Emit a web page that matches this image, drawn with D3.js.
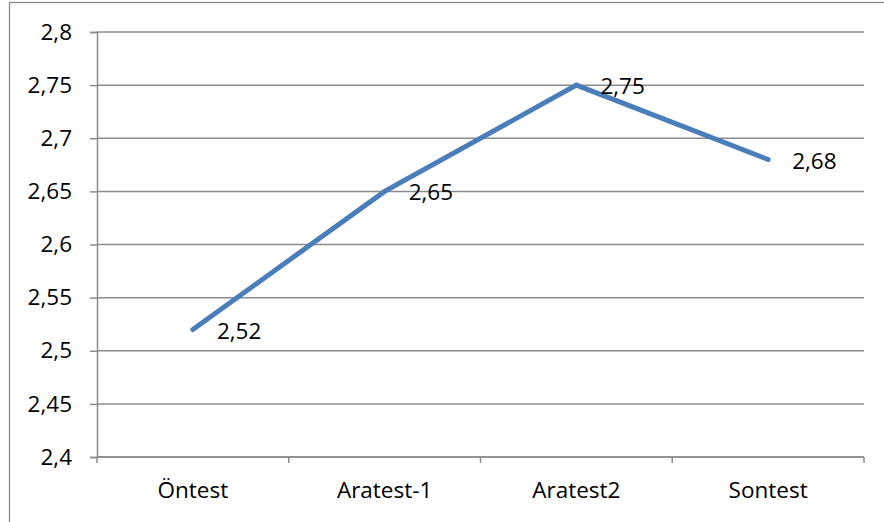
<!DOCTYPE html>
<html>
<head>
<meta charset="utf-8">
<script src="https://cdn.jsdelivr.net/npm/d3@7"></script>
<style>
  html, body { margin: 0; padding: 0; background: #fff; }
  svg { display: block; }
  text { font-family: "Open Sans", Lato, sans-serif; fill: #000; }
</style>
</head>
<body>
<svg id="chart" width="884" height="522"></svg>
<script>
// Mean scores per test stage
const categories = ["Öntest", "Aratest-1", "Aratest2", "Sontest"];
const values = [2.52, 2.65, 2.75, 2.68];
const yTicks = [2.4, 2.45, 2.5, 2.55, 2.6, 2.65, 2.7, 2.75, 2.8];

const svg = d3.select("#chart");
const plot = { left: 97, right: 864, top: 32, bottom: 457 };
const fontSize = "22.5px";

const fmt = v => String(v).replace(".", ",");

// outer chart frame
svg.append("rect")
  .attr("x", 9.5).attr("y", 2.5)
  .attr("width", 890).attr("height", 540)
  .attr("fill", "none").attr("stroke", "#8a8a8a").attr("stroke-width", 1.3);

const x = d3.scaleBand().domain(categories).range([plot.left, plot.right]).padding(0);
const y = d3.scaleLinear().domain([2.4, 2.8]).range([plot.bottom, plot.top]);

const gridColor = "#8c8c8c";

// horizontal gridlines
svg.append("g").selectAll("line").data(yTicks).join("line")
  .attr("x1", plot.left).attr("x2", plot.right)
  .attr("y1", d => y(d)).attr("y2", d => y(d))
  .attr("stroke", gridColor).attr("stroke-width", 1.5);

// y axis
const yAxis = svg.append("g")
  .attr("transform", `translate(${plot.left},0)`)
  .call(d3.axisLeft(y).tickValues(yTicks).tickFormat(fmt).tickSize(7).tickPadding(18));
yAxis.select(".domain").attr("stroke", gridColor).attr("stroke-width", 1.5);
yAxis.selectAll(".tick line").attr("stroke", gridColor).attr("stroke-width", 1.5);
yAxis.selectAll(".tick text").style("font-size", fontSize).attr("fill", "#000");

// x axis with boundary ticks between categories
const xAxis = svg.append("g").attr("transform", `translate(0,${plot.bottom})`);
xAxis.append("line")
  .attr("x1", plot.left).attr("x2", plot.right)
  .attr("stroke", gridColor).attr("stroke-width", 1.5);
const bounds = categories.map(c => x(c)).concat([x(categories[categories.length - 1]) + x.bandwidth()]);
xAxis.selectAll("line.tk").data(bounds).join("line").attr("class", "tk")
  .attr("x1", d => d).attr("x2", d => d).attr("y1", 0).attr("y2", 6)
  .attr("stroke", gridColor).attr("stroke-width", 1.5);
xAxis.selectAll("text").data(categories).join("text")
  .attr("x", d => x(d) + x.bandwidth() / 2)
  .attr("y", 41)
  .attr("text-anchor", "middle")
  .style("font-size", fontSize)
  .text(d => d);

// series line
const pts = categories.map((c, i) => [x(c) + x.bandwidth() / 2, y(values[i])]);
svg.append("path")
  .attr("d", d3.line()(pts))
  .attr("fill", "none")
  .attr("stroke", "#4a7ebb")
  .attr("stroke-width", 5)
  .attr("stroke-linecap", "round")
  .attr("stroke-linejoin", "miter");

// value labels
svg.append("g").selectAll("text").data(values).join("text")
  .attr("x", (d, i) => pts[i][0] + 24)
  .attr("y", (d, i) => pts[i][1] + 9)
  .style("font-size", fontSize)
  .text(d => fmt(d));
</script>
</body>
</html>
